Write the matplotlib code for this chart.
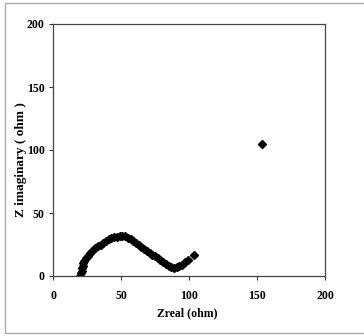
import numpy as np
import matplotlib.pyplot as plt
from matplotlib.patches import Rectangle

# impedance data (ohm)
z_real = [20, 20.5, 21, 21.5, 22, 22.3, 22.8, 24, 25.5, 27, 29, 31, 33, 35, 37, 39,
          41, 43, 45, 47, 49, 51, 53, 55, 57, 59, 61, 63, 65, 67, 69, 71, 73, 75,
          77, 79, 81, 83, 85, 87, 89, 91, 93, 95, 97, 99, 104, 154]
z_imag = [0, 2, 4, 6, 8, 10, 12, 14, 16, 18, 20, 22, 23.5, 25, 26.5, 27.8,
          29, 30, 30.8, 31.3, 31.7, 31.8, 31.5, 30.5, 29.2, 27.8, 26.3, 24.8, 23.2, 21.6, 20, 18.5, 17, 15.5,
          14, 12.5, 11, 9.5, 8.2, 7.2, 6.6, 6.8, 7.6, 9, 10.8, 12.5, 17, 105]
ticks = [0, 50, 100, 150, 200]
tick_labels = ['0', '50', '100', '150', '200']

plt.rcParams['font.family'] = ['Liberation Serif', 'DejaVu Serif']

fig = plt.figure(figsize=(3.64, 3.36), dpi=100)
# outer frame of the scanned figure (runs off the right edge)
fig.patches.append(Rectangle((5/364, 1-333/336), 370/364, 330/336, transform=fig.transFigure,
                             fill=False, edgecolor='#aaaaaa', linewidth=1.0))
ax = fig.add_axes([53/364, 1-276/336, 272/364, 252/336])

ax.plot(z_real, z_imag, 'D', color='black', markersize=3.6)

ax.set_xlim(0, 200)
ax.set_ylim(0, 200)
ax.set_xticks(ticks)
ax.set_xticklabels(tick_labels)
ax.set_yticks(ticks)
ax.set_yticklabels(tick_labels)
ax.tick_params(direction='out', length=3, width=0.8, labelsize=8.5, colors='#333333')
ax.tick_params(axis='x', pad=7)
ax.tick_params(axis='y', pad=3)
for lab in ax.get_xticklabels() + ax.get_yticklabels():
    lab.set_fontweight('bold')
    lab.set_color('black')
for s in ax.spines.values():
    s.set_color('#444444')
    s.set_linewidth(0.9)

ax.set_xlabel('Zreal (ohm)', fontsize=8.5, fontweight='bold')
ax.set_ylabel('Z imaginary ( ohm )', fontsize=9.5, fontweight='bold')
ax.xaxis.set_label_coords(0.495, -0.123)
ax.yaxis.set_label_coords(-0.096, 0.464)

fig.savefig('out.png', dpi=100)
